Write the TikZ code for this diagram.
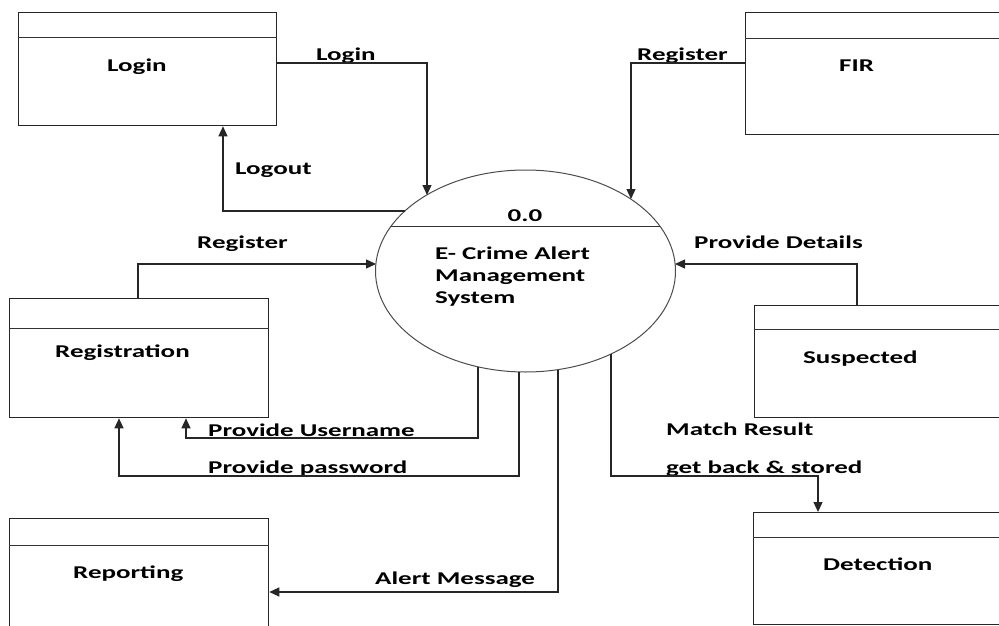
\documentclass[tikz,border=0pt]{standalone}
\usepackage{fontspec}
\setmainfont{Carlito}
\usepackage{graphicx}
\usetikzlibrary{shapes.geometric,arrows.meta,calc}
\newcommand\stx[1]{\scalebox{1.5}[1]{#1}}
\begin{document}
\begin{tikzpicture}[x=1pt,y=-1pt,
  box/.style={draw=black!85,line width=1.3pt,inner sep=0,anchor=north west},
  divider/.style={draw=black!80,line width=1pt},
  lab/.style={inner sep=0,anchor=base west,font=\bfseries\fontsize{18}{22}\selectfont},
  flow/.style={draw=black!85,line width=1.3pt,-{Triangle[width=9pt,length=10pt]}},
  ]
\useasboundingbox (0,0) rectangle (999,626);
\clip (0,0) rectangle (999,626);
\fill[white] (0,0) rectangle (999,626);

% stores / entities
\node[box,minimum width=258pt,minimum height=113pt] (login) at (18,12) {};
\draw[divider] ($(login.north west)+(0,26)$) -- ($(login.north east)+(0,26)$);
\node[box,minimum width=262pt,minimum height=122pt] (fir) at (745,12) {};
\draw[divider] ($(fir.north west)+(0,27)$) -- ($(fir.north east)+(0,27)$);
\node[box,minimum width=259pt,minimum height=119pt] (reg) at (9,298) {};
\draw[divider] ($(reg.north west)+(0,30)$) -- ($(reg.north east)+(0,30)$);
\node[box,minimum width=259pt,minimum height=125pt] (rep) at (9,518) {};
\draw[divider] ($(rep.north west)+(0,27)$) -- ($(rep.north east)+(0,27)$);
\node[box,minimum width=253pt,minimum height=112pt] (susp) at (754,305) {};
\draw[divider] ($(susp.north west)+(0,24)$) -- ($(susp.north east)+(0,24)$);
\node[box,minimum width=254pt,minimum height=112pt] (det) at (753,512) {};
\draw[divider] ($(det.north west)+(0,25)$) -- ($(det.north east)+(0,25)$);

% process
\node[ellipse,draw=black!70,line width=1pt,minimum width=300pt,minimum height=202pt,inner sep=0] (sys) at (525.5,271) {};
\coordinate (sysDivL) at (391,226);
\coordinate (sysDivR) at (660,226);
\draw[divider] (sysDivL) -- (sysDivR);
\coordinate (sysLogin) at (427,195);
\coordinate (sysFir) at (631,199);
\coordinate (sysLogout) at (405,211);
\coordinate (sysReg) at (376,264);
\coordinate (sysDet) at (675,264);
\coordinate (sysUser) at (478,367);
\coordinate (sysPass) at (519,372);
\coordinate (sysAlert) at (558,370);
\coordinate (sysMatch) at (611,354);

% texts
\node[lab] (tLogin) at (107,71) {\stx{Login}};
\node[lab] (tFir) at (839,71) {\stx{FIR}};
\node[lab] (tReg) at (55,357) {\stx{Registration}};
\node[lab] (tSusp) at (803,363) {\stx{Suspected}};
\node[lab] (tDet) at (823,570) {\stx{Detection}};
\node[lab] (tRep) at (73,578) {\stx{Reporting}};
\node[lab,anchor=base] (tNum) at (525,221) {\stx{0.0}};
\node[lab] (tSys1) at (435,259) {\stx{E- Crime Alert}};
\node[lab] (tSys2) at (435,281) {\stx{Management}};
\node[lab] (tSys3) at (435,303) {\stx{System}};

% flow labels
\node[lab] (lLogin) at (316,61) {\stx{Login}};
\node[lab] (lLogout) at (235,174) {\stx{Logout}};
\node[lab] (lRegF) at (637,61) {\stx{Register}};
\node[lab] (lRegR) at (197,248) {\stx{Register}};
\node[lab] (lDet) at (694,248) {\stx{Provide Details}};
\node[lab] (lUser) at (208,436) {\stx{Provide Username}};
\node[lab] (lPass) at (208,473) {\stx{Provide password}};
\node[lab] (lMatch) at (666,435) {\stx{Match Result}};
\node[lab] (lStore) at (666,473) {\stx{get back \& stored}};
\node[lab] (lAlert) at (375,584) {\stx{Alert Message}};

% connectors
\draw[flow] (login.east |- 0,63) -| (sysLogin);
\draw[flow] (sysLogout) -| (login.south -| 223,0);
\draw[flow] (fir.west |- 0,63) -| (sysFir);
\draw[flow] (reg.north -| 138,0) |- (sysReg);
\draw[flow] (susp.north -| 857,0) |- (sysDet);
\draw[flow] (sysUser) -- (sysUser |- 0,438) -| (reg.south -| 186,0);
\draw[flow] (sysPass) -- (sysPass |- 0,476) -| (reg.south -| 119,0);
\draw[flow] (sysAlert) |- (rep.east |- 0,592);
\draw[flow] (sysMatch) -- (sysMatch |- 0,476) -| (det.north -| 818,0);
\end{tikzpicture}
\end{document}
